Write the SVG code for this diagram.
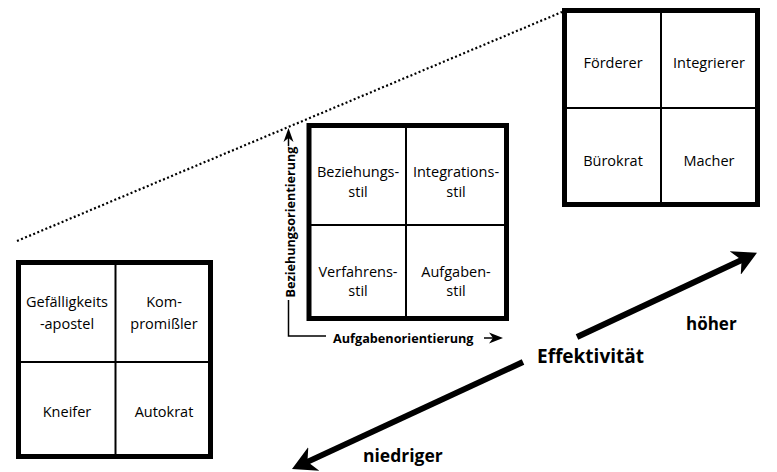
<svg xmlns="http://www.w3.org/2000/svg" width="777" height="472" viewBox="0 0 777 472">
<style>
.outer{fill:#fff;stroke:#000;stroke-width:5}
.div{stroke:#000;stroke-width:2;fill:none}
.t{font-family:"Open Sans","Noto Sans",sans-serif;font-size:14.5px;fill:#000;text-anchor:middle}
.b{font-family:"Open Sans","Noto Sans",sans-serif;font-weight:bold;fill:#000}
.ax{stroke:#000;stroke-width:1.5;fill:none}
</style>
<defs>
<marker id="big" viewBox="0 0 24 26" markerUnits="userSpaceOnUse" markerWidth="24" markerHeight="26" refX="10" refY="13" orient="auto">
<path d="M0,0 L24,13 L0,26 L7,13 z" fill="#000"/>
</marker>
</defs>
<g id="connectors">
<line x1="17" y1="241" x2="562" y2="12" stroke="#000" stroke-width="2.2" stroke-dasharray="2,2.4"/>
<line x1="577" y1="337" x2="744.3" y2="258.8" stroke="#000" stroke-width="6" marker-end="url(#big)"/>
<line x1="523" y1="362" x2="304.7" y2="463.1" stroke="#000" stroke-width="6" marker-end="url(#big)"/>
<polyline class="ax" points="288.5,300 288.5,336 326,336"/>
<line class="ax" x1="288.5" y1="146" x2="288.5" y2="136"/>
<path d="M288.5,128 L293.5,142 L288.5,138 L283.5,142 z" fill="#000"/>
<line class="ax" x1="484" y1="338" x2="495" y2="338"/>
<path d="M503,338 L489,332.5 L493,338 L489,343.5 z" fill="#000"/>
</g>
<g id="box-low">
<rect class="outer" x="18.5" y="262.5" width="192" height="194"/>
<line class="div" x1="115.5" y1="262" x2="115.5" y2="457"/>
<line class="div" x1="18" y1="362" x2="211" y2="362"/>
<text class="t" x="67" y="307">Gefälligkeits</text>
<text class="t" x="67" y="329">-apostel</text>
<text class="t" x="164" y="307">Kom-</text>
<text class="t" x="164" y="329">promißler</text>
<text class="t" x="67" y="417">Kneifer</text>
<text class="t" x="164" y="417">Autokrat</text>
</g>
<g id="box-mid">
<rect class="outer" x="309" y="125.5" width="197.5" height="193"/>
<line class="div" x1="406" y1="125" x2="406" y2="319"/>
<line class="div" x1="309" y1="225" x2="507" y2="225"/>
<text class="t" x="358" y="177">Beziehungs-</text>
<text class="t" x="358" y="197">stil</text>
<text class="t" x="456" y="177">Integrations-</text>
<text class="t" x="456" y="197">stil</text>
<text class="t" x="358" y="277">Verfahrens-</text>
<text class="t" x="358" y="296">stil</text>
<text class="t" x="456" y="277">Aufgaben-</text>
<text class="t" x="456" y="296">stil</text>
</g>
<g id="box-high">
<rect class="outer" x="564.5" y="10.5" width="193" height="194"/>
<line class="div" x1="661" y1="10" x2="661" y2="205"/>
<line class="div" x1="564" y1="108" x2="758" y2="108"/>
<text class="t" x="613" y="68">Förderer</text>
<text class="t" x="709" y="68">Integrierer</text>
<text class="t" x="613" y="166">Bürokrat</text>
<text class="t" x="709" y="166">Macher</text>
</g>
<g id="labels">
<text class="b" font-size="12.6" text-anchor="middle" transform="translate(295,222) rotate(-90)">Beziehungsorientierung</text>
<text class="b" font-size="12.7" x="333" y="343">Aufgabenorientierung</text>
<text class="b" font-size="19" x="537" y="363">Effektivität</text>
<text class="b" font-size="17" x="686" y="330">höher</text>
<text class="b" font-size="17.5" x="363" y="462">niedriger</text>
</g>
</svg>
